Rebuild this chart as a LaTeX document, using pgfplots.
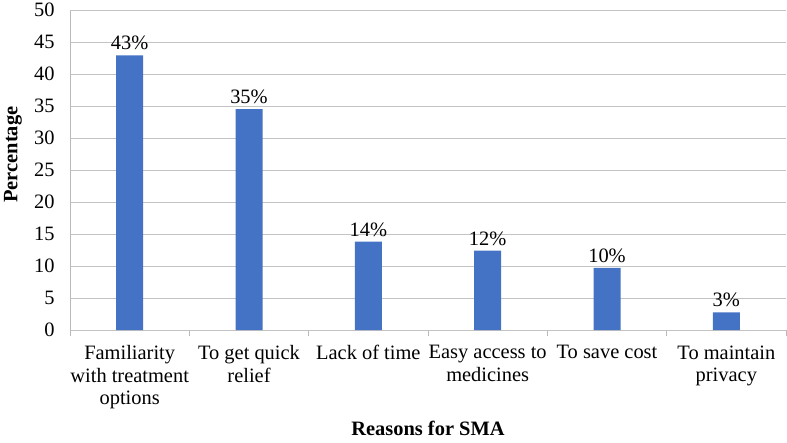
\documentclass[border=0pt]{standalone}
\usepackage{pgfplots}
\pgfplotsset{compat=1.18}
\usepackage{fontspec}
\setmainfont{Liberation Serif}
\definecolor{barblue}{RGB}{68,114,196}
\definecolor{gridgray}{RGB}{195,195,195}
\definecolor{axgray}{RGB}{185,185,185}
\begin{document}
\begin{tikzpicture}
\begin{axis}[
  scale only axis,
  width=716bp, height=320bp,
  xmin=-0.5, xmax=5.5,
  ymin=0, ymax=50,
  ytick={0,5,...,50},
  xtick={0,1,2,3,4,5},
  xticklabels={{Familiarity\\with treatment\\options},{To get quick\\relief},{Lack of time},{Easy access to\\medicines},{To save cost},{To maintain\\privacy}},
  minor xtick={-0.5,0.5,1.5,2.5,3.5,4.5,5.5},
  major tick length=0pt,
  minor tick length=6bp,
  ytick style={draw=none},
  extra y ticks={0,5,...,50},
  extra y tick labels={},
  extra y tick style={major tick length=7bp, tick align=outside, tick style={draw=gridgray, line width=0.8pt}},
  tick align=outside,
  minor tick style={draw=axgray, line width=0.8pt},
  axis x line*=bottom,
  axis y line*=left,
  axis line style={draw=axgray, line width=0.8pt, -},
  ymajorgrids,
  grid style={draw=gridgray, line width=0.8pt},
  /pgf/number format/assume math mode=true,
  tick label style={font=\fontsize{20.5}{22.5}\selectfont},
  xticklabel style={align=center, yshift=-12bp},
  yticklabel style={xshift=-12bp},
  xlabel={\textbf{Reasons for SMA}},
  ylabel={\textbf{Percentage}},
  label style={font=\fontsize{20.5}{22.5}\selectfont},
  xlabel style={at={(axis description cs:0.5,-0.306)}, anchor=center},
  ylabel style={at={(axis description cs:-0.0796,0.548)}, anchor=center, rotate=0},
  ybar, bar width=27bp,
  nodes near coords,
  point meta=explicit symbolic,
  nodes near coords style={font=\fontsize{20.5}{22.5}\selectfont, text=black, inner sep=1bp, yshift=4bp},
]
\addplot[fill=barblue, draw=none] coordinates {
  (0,42.9) [43\%]
  (1,34.5) [35\%]
  (2,13.8) [14\%]
  (3,12.4) [12\%]
  (4,9.7) [10\%]
  (5,2.75) [3\%]
};
\end{axis}
\pgfresetboundingbox
\path ([xshift=-70bp,yshift=-112bp]current axis.south west) rectangle ([xshift=1bp,yshift=10bp]current axis.north east);
\end{tikzpicture}
\end{document}
